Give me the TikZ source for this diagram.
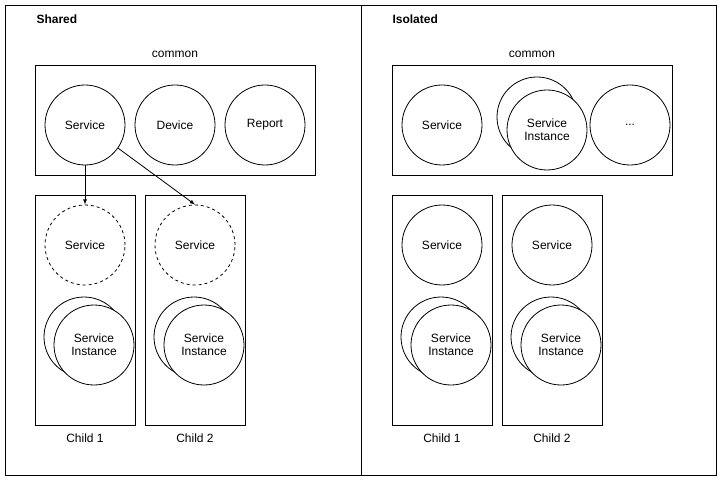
\documentclass[tikz,border=0pt]{standalone}
\usepackage{fontspec}
\setmainfont{Liberation Sans}
\begin{document}
\begin{tikzpicture}[x=1pt,y=-1pt,
  box/.style={draw,line width=0.8pt},
  circ/.style={draw,circle,minimum size=80pt,inner sep=0pt,fill=white,line width=0.8pt,align=center,font=\fontsize{12}{13}\selectfont},
  dcirc/.style={circ,dashed},
  lbl/.style={font=\fontsize{12}{13}\selectfont},
  ttl/.style={font=\bfseries\fontsize{12}{13}\selectfont,anchor=west},
  arr/.style={-latex,line width=0.8pt}]
\useasboundingbox (0,0) rectangle (723,481);
\draw[box] (5,5) rectangle (716,475);
\draw[box] (361,5) -- (361,475);
\node[ttl] (t1) at (33,19) {Shared};
\node[ttl] (t2) at (389,19) {Isolated};
% left
\node[lbl] (c1) at (175,54) {common};
\draw[box] (35,65) rectangle (315,175);
\node[circ] (ls) at (85,125) {Service};
\node[circ] (ld) at (175,125) {Device};
\node[circ] (lr) at (265,125) {Report};
\foreach \x/\n in {85/1,195/2}{
  \draw[box] (\x-50,195) rectangle (\x+50,425);
  \node[dcirc] (lds\n) at (\x,245) {Service};
  \node[circ] (lib\n) at (\x-1,337) {};
  \node[circ] (li\n) at (\x+9,345) {Service\\Instance};
  \node[lbl] (lc\n) at (\x,438) {Child \n};
}
\draw[arr] (ls.south) -- (lds1.north);
\draw[arr] (ls.-35) -- (lds2.north);
% right
\node[lbl] (c2) at (532,54) {common};
\draw[box] (392,65) rectangle (672,175);
\node[circ] (rs) at (442,125) {Service};
\node[circ] (rib) at (537,117) {};
\node[circ] (ri) at (547,130) {Service\\Instance};
\node[circ] (rd) at (630,125) {...};
\foreach \x/\n in {442/1,552/2}{
  \draw[box] (\x-50,195) rectangle (\x+50,425);
  \node[circ] (rs\n) at (\x,245) {Service};
  \node[circ] (rib\n) at (\x-1,337) {};
  \node[circ] (ri\n) at (\x+9,345) {Service\\Instance};
  \node[lbl] (rc\n) at (\x,438) {Child \n};
}
\end{tikzpicture}
\end{document}
